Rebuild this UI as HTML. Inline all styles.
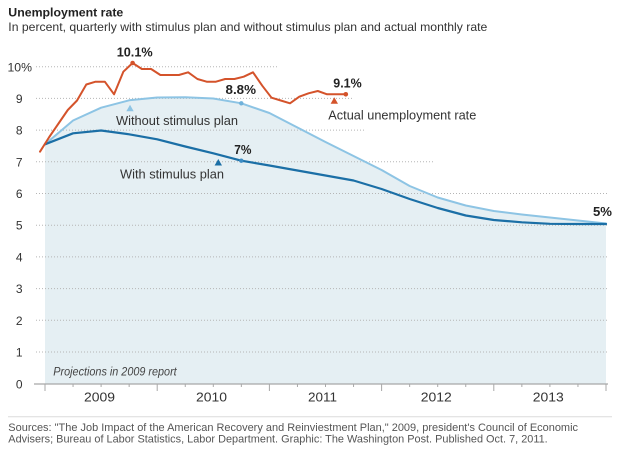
<!DOCTYPE html>
<html>
<head>
<meta charset="utf-8">
<style>
  html,body{margin:0;padding:0;background:#fff;}
  body{width:620px;height:458px;overflow:hidden;}
  svg{display:block;}
  text{font-family:"Liberation Sans", Arial, sans-serif;}
</style>
</head>
<body>
<svg width="620" height="458" viewBox="0 0 620 458" xmlns="http://www.w3.org/2000/svg">
  <!-- Title -->
  <text x="8.3" y="16.7" font-size="12.3" font-weight="bold" fill="#222" textLength="115" lengthAdjust="spacingAndGlyphs">Unemployment rate</text>
  <text x="8.3" y="31" font-size="12" fill="#333" textLength="479" lengthAdjust="spacingAndGlyphs">In percent, quarterly with stimulus plan and without stimulus plan and actual monthly rate</text>

  <!-- Fill under "without stimulus" line -->
  <polygon fill="#e5eff3" points="45,144.3 73.05,120.5 101.1,107.7 129.15,100.3 157.2,97.5 185.25,97.2 213.3,98.5 241.35,103.3 269.4,113 297.45,127.5 325.5,142 353.55,156 381.6,170 409.65,186 437.7,197.5 465.75,205.5 493.8,211 521.85,214.5 549.9,217.5 577.95,220.5 606,223.5 606,384 45,384"/>

  <!-- Gridlines (dotted) -->
  <g stroke="#b5b5b5" stroke-width="1" stroke-dasharray="1,2" fill="none">
    <line x1="36" y1="66.7" x2="279" y2="66.7"/>
    <line x1="36" y1="98.4" x2="354" y2="98.4"/>
    <line x1="36" y1="130.1" x2="365" y2="130.1"/>
    <line x1="36" y1="161.8" x2="433" y2="161.8"/>
    <line x1="36" y1="193.5" x2="609" y2="193.5"/>
    <line x1="36" y1="225.2" x2="609" y2="225.2"/>
    <line x1="36" y1="256.9" x2="609" y2="256.9"/>
    <line x1="36" y1="288.6" x2="609" y2="288.6"/>
    <line x1="36" y1="320.3" x2="609" y2="320.3"/>
    <line x1="36" y1="352" x2="609" y2="352"/>
  </g>

  <!-- Y axis labels -->
  <g font-size="12" fill="#333">
    <text x="7.5" y="71.5" textLength="24.5" lengthAdjust="spacingAndGlyphs">10%</text>
    <text x="22.5" y="102.9" text-anchor="end">9</text>
    <text x="22.5" y="134.6" text-anchor="end">8</text>
    <text x="22.5" y="166.3" text-anchor="end">7</text>
    <text x="22.5" y="198" text-anchor="end">6</text>
    <text x="22.5" y="229.7" text-anchor="end">5</text>
    <text x="22.5" y="261.4" text-anchor="end">4</text>
    <text x="22.5" y="293.1" text-anchor="end">3</text>
    <text x="22.5" y="324.8" text-anchor="end">2</text>
    <text x="22.5" y="356.5" text-anchor="end">1</text>
    <text x="22.5" y="388.5" text-anchor="end">0</text>
  </g>

  <!-- X axis -->
  <line x1="34" y1="384" x2="608" y2="384" stroke="#a8a8a8" stroke-width="1.3"/>
  <g stroke="#a8a8a8" stroke-width="1">
    <line x1="45" y1="384" x2="45" y2="391"/>
    <line x1="157.2" y1="384" x2="157.2" y2="391"/>
    <line x1="269.4" y1="384" x2="269.4" y2="391"/>
    <line x1="381.6" y1="384" x2="381.6" y2="391"/>
    <line x1="493.8" y1="384" x2="493.8" y2="391"/>
    <line x1="606" y1="384" x2="606" y2="391"/>
    <line x1="73.05" y1="384" x2="73.05" y2="387"/>
    <line x1="101.1" y1="384" x2="101.1" y2="387"/>
    <line x1="129.15" y1="384" x2="129.15" y2="387"/>
    <line x1="185.25" y1="384" x2="185.25" y2="387"/>
    <line x1="213.3" y1="384" x2="213.3" y2="387"/>
    <line x1="241.35" y1="384" x2="241.35" y2="387"/>
    <line x1="297.45" y1="384" x2="297.45" y2="387"/>
    <line x1="325.5" y1="384" x2="325.5" y2="387"/>
    <line x1="353.55" y1="384" x2="353.55" y2="387"/>
    <line x1="409.65" y1="384" x2="409.65" y2="387"/>
    <line x1="437.7" y1="384" x2="437.7" y2="387"/>
    <line x1="465.75" y1="384" x2="465.75" y2="387"/>
    <line x1="521.85" y1="384" x2="521.85" y2="387"/>
    <line x1="549.9" y1="384" x2="549.9" y2="387"/>
    <line x1="577.95" y1="384" x2="577.95" y2="387"/>
  </g>
  <g font-size="13" fill="#333" text-anchor="middle">
    <text x="99.5" y="401.7" textLength="31" lengthAdjust="spacingAndGlyphs">2009</text>
    <text x="211.5" y="401.7" textLength="31" lengthAdjust="spacingAndGlyphs">2010</text>
    <text x="322.5" y="401.7" textLength="29" lengthAdjust="spacingAndGlyphs">2011</text>
    <text x="436.3" y="401.7" textLength="31" lengthAdjust="spacingAndGlyphs">2012</text>
    <text x="548.3" y="401.7" textLength="31" lengthAdjust="spacingAndGlyphs">2013</text>
  </g>

  <!-- Without stimulus line (light blue) -->
  <polyline fill="none" stroke="#8dc4e4" stroke-width="2" stroke-linejoin="round" stroke-linecap="round"
    points="45,144.3 73.05,120.5 101.1,107.7 129.15,100.3 157.2,97.5 185.25,97.2 213.3,98.5 241.35,103.3 269.4,113 297.45,127.5 325.5,142 353.55,156 381.6,170 409.65,186 437.7,197.5 465.75,205.5 493.8,211 521.85,214.5 549.9,217.5 577.95,220.5 606,223.5"/>

  <!-- With stimulus line (dark blue) -->
  <polyline fill="none" stroke="#1b6fa6" stroke-width="2.2" stroke-linejoin="round" stroke-linecap="round"
    points="45,144.3 73.05,133.3 101.1,130.5 129.15,134.3 157.2,139.3 185.25,146.5 213.3,153.3 241.35,160.7 269.4,165.5 297.45,170.5 325.5,175.5 353.55,180.5 381.6,189 409.65,199 437.7,208 465.75,215.5 493.8,220 521.85,222.3 549.9,223.8 577.95,224 606,224"/>

  <!-- Actual rate (red) -->
  <polyline fill="none" stroke="#d4532b" stroke-width="2" stroke-linejoin="round" stroke-linecap="round"
    points="40,151.7 49.26,137 58.52,123.5 67.78,110 77.04,100.5 86.3,84.5 95.56,81.7 104.82,81.7 114.08,94.3 123.34,71.7 132.6,63 141.86,69 151.12,69 160.38,75 169.64,75 178.9,75 188.16,72.3 197.42,79 206.68,81.7 215.94,81.7 225.2,79 234.46,79 243.72,76.7 252.98,72.3 262.24,85.7 271.5,97.7 280.76,100.5 290.02,103.3 299.28,96.7 308.54,93.3 317.8,91 327.06,94.3 336.32,94.3 345.58,94.3"/>

  <!-- Dots -->
  <circle cx="132.6" cy="63" r="2.3" fill="#d4532b"/>
  <circle cx="345.8" cy="94.3" r="2.3" fill="#d4532b"/>
  <circle cx="241.3" cy="103.3" r="2.2" fill="#6fb1da"/>
  <circle cx="241.3" cy="160.7" r="2.2" fill="#3d8cc4"/>

  <!-- Triangles -->
  <polygon points="130,104.8 126.3,111.3 133.7,111.3" fill="#8dc4e4"/>
  <polygon points="218.3,159 214.6,165.5 222,165.5" fill="#1b6fa6"/>
  <polygon points="334.3,97.3 330.6,103.8 338,103.8" fill="#d4532b"/>

  <!-- Value labels -->
  <g font-size="13" font-weight="bold" fill="#222">
    <text x="116.7" y="56.7" textLength="36" lengthAdjust="spacingAndGlyphs">10.1%</text>
    <text x="225.5" y="94" textLength="30.5" lengthAdjust="spacingAndGlyphs">8.8%</text>
    <text x="333.3" y="87.7" textLength="28.4" lengthAdjust="spacingAndGlyphs">9.1%</text>
    <text x="234.3" y="154" textLength="17.2" lengthAdjust="spacingAndGlyphs">7%</text>
    <text x="593" y="216" textLength="19" lengthAdjust="spacingAndGlyphs">5%</text>
  </g>

  <!-- Series labels -->
  <g font-size="13" fill="#333">
    <text x="116" y="125" textLength="122" lengthAdjust="spacingAndGlyphs">Without stimulus plan</text>
    <text x="120" y="178.3" textLength="104" lengthAdjust="spacingAndGlyphs">With stimulus plan</text>
    <text x="328.3" y="119.5" textLength="148" lengthAdjust="spacingAndGlyphs">Actual unemployment rate</text>
  </g>

  <text x="53.3" y="375.7" font-size="11.5" font-style="italic" fill="#444" textLength="123.4" lengthAdjust="spacingAndGlyphs">Projections in 2009 report</text>

  <!-- Footer -->
  <line x1="8" y1="416.7" x2="612" y2="416.7" stroke="#dcdcdc" stroke-width="1"/>
  <g font-size="11" fill="#555">
    <text x="8.3" y="431" textLength="569.7" lengthAdjust="spacingAndGlyphs">Sources: "The Job Impact of the American Recovery and Reinviestment Plan," 2009, president's Council of Economic</text>
    <text x="8.3" y="442.3" textLength="539.4" lengthAdjust="spacingAndGlyphs">Advisers; Bureau of Labor Statistics, Labor Department. Graphic: The Washington Post. Published Oct. 7, 2011.</text>
  </g>
</svg>
</body>
</html>
